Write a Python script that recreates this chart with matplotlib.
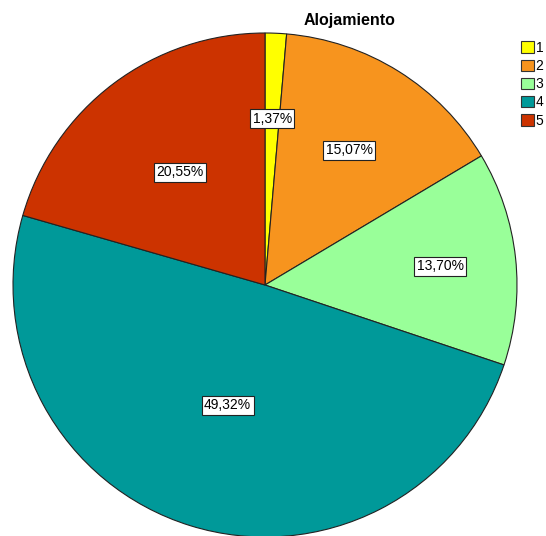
import matplotlib
matplotlib.use("Agg")
import matplotlib.pyplot as plt
from matplotlib.patches import Patch
import numpy as np

categories = ["1", "2", "3", "4", "5"]
counts = [1, 11, 10, 36, 15]
pct_labels = ["1,37%", "15,07%", "13,70%", "49,32%", "20,55%"]
colors = ["#FFFF00", "#F7941E", "#99FF99", "#009999", "#CC3300"]
label_radius = [0.66, 0.63, 0.70, 0.50, 0.56]

W, H = 546, 536
fig = plt.figure(figsize=(W / 100, H / 100), dpi=100)
cx, cy, r = 265, 285, 252
ax = fig.add_axes([(cx - r) / W, (H - cy - r) / H, 2 * r / W, 2 * r / H])

wedges, _ = ax.pie(counts, colors=colors, startangle=90, counterclock=False,
                   radius=1.0, wedgeprops=dict(edgecolor="#222222", linewidth=0.8))
for w in wedges:
    w.set_clip_on(False)
ax.set_xlim(-1, 1)
ax.set_ylim(-1, 1)
ax.set_aspect("equal")
ax.axis("off")

total = sum(counts)
cum = 0
for c, lab, rr in zip(counts, pct_labels, label_radius):
    mid = cum + c / 2
    ang = np.deg2rad(90 - 360 * mid / total)
    ax.text(rr * np.cos(ang), rr * np.sin(ang), lab, ha="center", va="center",
            fontsize=10, family="Liberation Sans",
            bbox=dict(boxstyle="square,pad=0.18", facecolor="white",
                      edgecolor="#222222", linewidth=0.8))
    cum += c

fig.text(350 / W, 1 - 20 / H, "Alojamiento", ha="center", va="center",
         fontsize=11.5, fontweight="bold", family="Liberation Sans")

handles = [Patch(facecolor=col, edgecolor="#333333", linewidth=0.8) for col in colors]
fig.legend(handles, categories, loc="upper left",
           bbox_to_anchor=(521 / W, 1 - 41 / H), frameon=False,
           prop=dict(family="Liberation Sans", size=10),
           handlelength=0.9, handleheight=0.9, handletextpad=0.15,
           labelspacing=0.30, borderpad=0, borderaxespad=0)

fig.savefig("out.png", dpi=100)
